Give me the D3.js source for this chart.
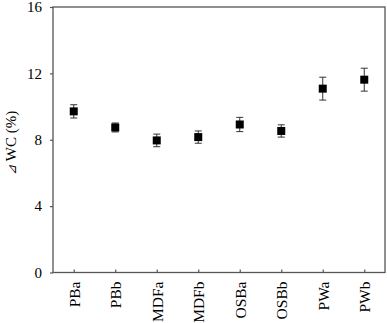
<!DOCTYPE html>
<html>
<head>
<meta charset="utf-8">
<script src="https://cdn.jsdelivr.net/npm/d3@7"></script>
<style>
body{margin:0;background:#fff;}
svg text{font-family:"Liberation Serif","Times New Roman",serif;fill:#000;}
</style>
</head>
<body>
<div id="chart"></div>
<script>
var samples=['PBa','PBb','MDFa','MDFb','OSBa','OSBb','PWa','PWb'];
var wcValues=[9.71,8.74,7.96,8.16,8.92,8.53,11.08,11.62];
var wcErrors=[0.4,0.27,0.38,0.37,0.43,0.37,0.69,0.69];
var yTicks=[0,4,8,12,16];

var width=387,height=323;
var mLeft=53,mTop=7,mRight=385,mBottom=272.5;

var svg=d3.select('#chart').append('svg')
  .attr('width',width)
  .attr('height',height);

var xScale=d3.scalePoint()
  .domain(samples)
  .range([mLeft,mRight])
  .padding(0.5);

var yScale=d3.scaleLinear()
  .domain([0,16])
  .range([mBottom,mTop]);

// frame
svg.append('rect')
  .attr('x',mLeft).attr('y',mTop)
  .attr('width',mRight-mLeft).attr('height',mBottom-mTop)
  .style('fill','none')
  .style('stroke','#555')
  .style('stroke-width',1.3);

var yAxis=d3.axisLeft(yScale)
  .tickValues(yTicks)
  .tickSize(3)
  .tickSizeOuter(0)
  .tickPadding(8);

var gy=svg.append('g')
  .attr('transform','translate('+mLeft+',0)')
  .call(yAxis);
gy.select('.domain').remove();
gy.selectAll('line').style('stroke','#555').style('stroke-width',1.2);
gy.selectAll('text').style('font-size','15px');

var xAxis=d3.axisBottom(xScale)
  .tickSize(-3)
  .tickSizeOuter(0);

var gx=svg.append('g')
  .attr('transform','translate(0,'+mBottom+')')
  .call(xAxis);
gx.select('.domain').remove();
gx.selectAll('line').style('stroke','#555').style('stroke-width',1.2);
gx.selectAll('text')
  .style('font-size','15.5px')
  .attr('text-anchor','end')
  .attr('transform','rotate(-90)')
  .attr('x',-9)
  .attr('y',0)
  .attr('dy','0.35em');

var points=svg.append('g')
  .selectAll('g')
  .data(samples)
  .enter()
  .append('g');

points.append('line')
  .attr('x1',(d)=>xScale(d))
  .attr('x2',(d)=>xScale(d))
  .attr('y1',(d,i)=>yScale(wcValues[i]+wcErrors[i]))
  .attr('y2',(d,i)=>yScale(wcValues[i]-wcErrors[i]))
  .style('stroke','#333')
  .style('stroke-width',1);

[1,-1].forEach(function(s){
  points.append('line')
    .attr('x1',(d)=>xScale(d)-3.5)
    .attr('x2',(d)=>xScale(d)+3.5)
    .attr('y1',(d,i)=>yScale(wcValues[i]+s*wcErrors[i]))
    .attr('y2',(d,i)=>yScale(wcValues[i]+s*wcErrors[i]))
    .style('stroke','#333')
    .style('stroke-width',1);
});

points.append('rect')
  .attr('x',(d)=>xScale(d)-4)
  .attr('y',(d,i)=>yScale(wcValues[i])-4)
  .attr('width',8)
  .attr('height',8)
  .style('fill','#000');

svg.append('text')
  .attr('transform','translate(16,'+((mTop+mBottom)/2+3)+') rotate(-90)')
  .attr('text-anchor','middle')
  .style('font-size','15px')
  .html('<tspan style="font-style:italic;font-size:12px">\u22BF</tspan> WC (%)');
</script>
</body>
</html>
